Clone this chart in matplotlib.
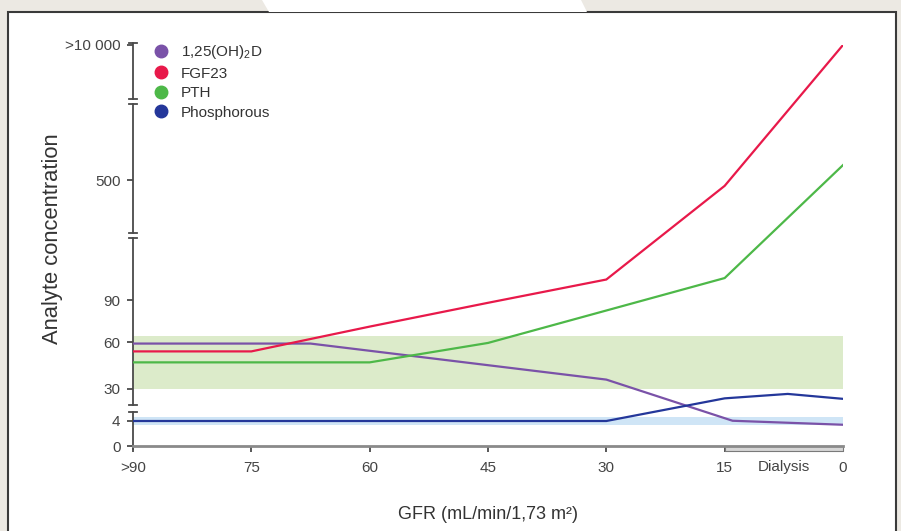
import numpy as np
import matplotlib
matplotlib.use("Agg")
import matplotlib.pyplot as plt
from matplotlib.lines import Line2D
from matplotlib.patches import Rectangle, Polygon

plt.rcParams['font.family'] = ['Liberation Sans', 'DejaVu Sans']
plt.rcParams['mathtext.fontset'] = 'custom'
plt.rcParams['mathtext.rm'] = 'Liberation Sans'
plt.rcParams['mathtext.it'] = 'Liberation Sans'

# ---------------- data (schematic values) ----------------
gfr_ticks = [90, 75, 60, 45, 30, 15, 0]
gfr_labels = [">90", "75", "60", "45", "30", "15", "0"]

y_ticks = [0, 4, 30, 60, 90, 500, 10000]
y_labels = ["0", "4", "30", "60", "90", "500", ">10 000"]
# screen height (px above the x axis) of each y tick -> piecewise axis
y_tick_pos = [0, 25, 57, 104, 146, 266, 401]

vitd_x = [90, 75, 67.5, 30, 14, 0]
vitd_y = [59, 59, 59, 36, 4.2, 3.4]

fgf23_x = [90, 75, 60, 45, 30, 15, 0]
fgf23_y = [54, 54, 71, 88, 160, 480, 10000]

pth_x = [90, 75, 60, 45, 30, 15, 0]
pth_y = [47, 47, 47, 59.4, 82.5, 165, 1550]

phos_x = [90, 75, 60, 45, 30, 15, 7, 0]
phos_y = [4, 4, 4, 4, 4, 22.4, 26, 22]

pth_range = (30, 64)
phos_range = (3.4, 7.5)

names = ["1,25(OH)$_2$D", "FGF23", "PTH", "Phosphorous"]
colors = ["#7a52a8", "#e8194a", "#4db848", "#24379a"]


def fwd(v):
    return np.interp(v, y_ticks, y_tick_pos)


def inv(p):
    return np.interp(p, y_tick_pos, y_ticks)


def main():
    fig = plt.figure(figsize=(9.01, 5.31), dpi=100)
    fig.patch.set_facecolor("#ece9e3")
    W, H = 901, 531

    # white panel with border + light shape at top
    fig.patches.append(Rectangle((8 / W, -0.05), 888 / W, (H - 12) / H + 0.05,
                                 transform=fig.transFigure, facecolor="white",
                                 edgecolor="#3a3a3a", linewidth=1.5, zorder=-5))
    fig.patches.append(Polygon([(262 / W, 1), (581 / W, 1), (587 / W, 1 - 12 / H), (269 / W, 1 - 12 / H)],
                               closed=True, transform=fig.transFigure,
                               facecolor="white", edgecolor="none", zorder=-5))

    ax = fig.add_axes([133 / W, (H - 446) / H, 710 / W, 401 / H])
    ax.patch.set_alpha(0)
    ax.set_yscale("function", functions=(fwd, inv))
    ax.set_xlim(90, 0)
    ax.set_ylim(0, 10000)

    # normal ranges
    ax.fill_between([90, 0], pth_range[0], pth_range[1], color="#dcebca", lw=0, zorder=1)
    ax.fill_between([90, 0], phos_range[0], phos_range[1], color="#cfe5f6", lw=0, zorder=1)

    series = [(vitd_x, vitd_y), (fgf23_x, fgf23_y), (pth_x, pth_y), (phos_x, phos_y)]
    for (xs, ys), c in zip(series, colors):
        ax.plot(xs, ys, color=c, lw=1.6, zorder=3, solid_joinstyle="miter")

    # y axis drawn by hand, with breaks
    for s in ["left", "top", "right"]:
        ax.spines[s].set_visible(False)
    ax.spines["bottom"].set_color("#8a8a8a")
    ax.spines["bottom"].set_linewidth(2)
    axc = "#4a4a4a"
    segs = [(-0.008, 0.0848), (0.1022, 0.5187), (0.5304, 0.8529), (0.8653, 1.005)]
    cw = 4 / 710
    for i, (a, b) in enumerate(segs):
        ax.plot([0, 0], [a, b], color=axc, lw=1.3, transform=ax.transAxes, clip_on=False)
        if i > 0:
            ax.plot([-cw, cw], [a, a], color=axc, lw=1.3, transform=ax.transAxes, clip_on=False)
        ax.plot([-cw, cw], [b, b], color=axc, lw=1.3, transform=ax.transAxes, clip_on=False)

    # dialysis bar under the axis
    ax.add_patch(Rectangle((15, -0.012), -15, 0.012, transform=ax.get_xaxis_transform(),
                           facecolor="#d6d6d6", edgecolor="#7a7a7a", lw=0.8, clip_on=False, zorder=2))

    ax.set_yticks(y_ticks, y_labels)
    ax.minorticks_off()
    ax.set_xticks(gfr_ticks, gfr_labels)
    ax.set_xticks([7.5], ["Dialysis"], minor=True)
    ax.tick_params(axis="y", length=4, width=1.3, color=axc, pad=5, labelsize=11, labelcolor="#444444")
    ax.tick_params(axis="x", which="major", length=4, width=1.3, color=axc, pad=7,
                   labelsize=11, labelcolor="#444444")
    ax.tick_params(axis="x", which="minor", length=0, pad=9.9, labelsize=11, labelcolor="#444444")

    ax.set_xlabel("GFR (mL/min/1,73 m²)", fontsize=13, color="#333333", labelpad=22)
    ax.set_ylabel("Analyte concentration", fontsize=15.8, color="#333333")
    ax.yaxis.set_label_coords(-0.098, 0.517)

    handles = [Line2D([], [], marker="o", ls="", color=c, markersize=9) for c in colors]
    ax.legend(handles, names, loc="upper left", bbox_to_anchor=(153.5 / W, 1 - 43 / H),
              bbox_transform=fig.transFigure, frameon=False, fontsize=11,
              handlelength=1.0, handletextpad=0.8, labelspacing=0.36,
              borderpad=0, borderaxespad=0, labelcolor="#333333")

    plt.savefig("out.png", dpi=100, facecolor=fig.get_facecolor())


if __name__ == "__main__":
    main()
